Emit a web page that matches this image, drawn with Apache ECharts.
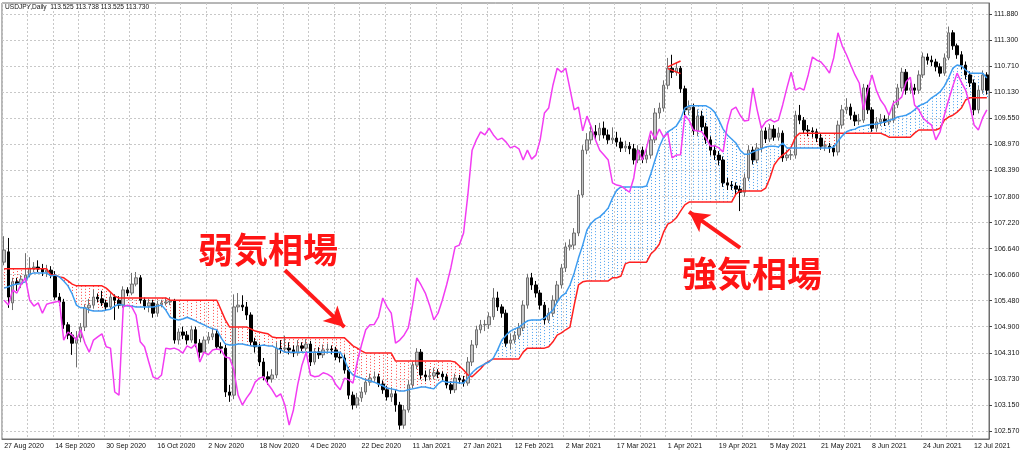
<!DOCTYPE html>
<html>
<head>
<meta charset="utf-8">
<script src="https://cdn.jsdelivr.net/npm/echarts@6/dist/echarts.min.js"></script>
<style>
  html, body { margin: 0; padding: 0; background: #fff; }
  #chart { width: 1024px; height: 455px; }
</style>
</head>
<body>
<div id="chart"></div>
<script>
// date labels, one every 12 bars
const dateTicks = ['27 Aug 2020', '14 Sep 2020', '30 Sep 2020', '16 Oct 2020', '2 Nov 2020', '18 Nov 2020',
  '4 Dec 2020', '22 Dec 2020', '11 Jan 2021', '27 Jan 2021', '12 Feb 2021', '2 Mar 2021', '17 Mar 2021',
  '1 Apr 2021', '19 Apr 2021', '5 May 2021', '21 May 2021', '8 Jun 2021', '24 Jun 2021', '12 Jul 2021'];

const priceTicks = [102.57, 103.15, 103.73, 104.31, 104.90, 105.48, 106.06, 106.64, 107.22,
  107.80, 108.39, 108.97, 109.55, 110.13, 110.71, 111.30, 111.88];

// daily bars: [open, close, low, high]
const candles = [
  [106.34,106.61,106.27,106.92],[106.57,105.56,105.32,106.88],[105.43,105.90,105.27,105.99],[105.90,105.85,105.70,105.99],
  [105.85,105.96,105.76,106.05],[105.96,106.05,105.90,106.54],[106.05,106.21,106.00,106.45],[106.21,106.23,106.12,106.34],
  [106.23,106.19,106.12,106.38],[106.19,106.12,106.03,106.30],[106.12,106.16,106.01,106.28],[106.16,106.05,105.98,106.25],
  [106.05,105.56,105.50,106.14],[105.56,105.45,105.36,105.65],[105.45,104.94,104.85,105.52],[104.94,104.71,104.62,105.00],
  [104.71,104.53,104.27,104.78],[104.53,104.65,103.99,104.80],[104.65,104.89,104.55,104.98],[104.89,105.32,104.80,105.40],
  [105.32,105.38,105.20,105.52],[105.38,105.56,105.30,105.72],[105.56,105.52,105.44,105.64],[105.52,105.43,105.36,105.70],
  [105.43,105.34,105.25,105.50],[105.34,105.56,105.28,105.64],[105.56,105.49,105.05,105.62],[105.49,105.38,105.30,105.58],
  [105.38,105.72,105.32,105.80],[105.72,105.65,105.58,105.78],[105.65,105.85,105.60,106.10],[105.85,105.99,105.80,106.12],
  [105.99,105.49,105.42,106.05],[105.49,105.36,105.28,105.55],[105.36,105.43,105.22,105.52],[105.43,105.20,105.10,105.50],
  [105.20,105.40,105.12,105.48],[105.40,105.43,105.33,105.50],[105.43,105.45,105.37,105.55],[105.45,105.47,105.38,105.56],
  [105.47,104.60,104.52,105.52],[104.60,104.78,104.50,104.86],[104.78,104.71,104.62,104.90],[104.71,104.60,104.50,104.80],
  [104.60,104.83,104.54,104.92],[104.83,104.53,104.44,104.90],[104.53,104.33,104.20,104.62],[104.33,104.60,104.28,104.68],
  [104.60,104.67,104.52,104.78],[104.67,104.74,104.60,104.88],[104.74,104.45,104.38,104.82],[104.45,104.42,104.30,104.55],
  [104.42,103.44,103.33,104.50],[103.44,103.37,103.22,103.60],[103.37,105.34,103.28,105.62],[105.34,105.38,105.22,105.65],
  [105.38,105.34,105.25,105.60],[105.34,105.16,105.05,105.45],[105.16,104.56,104.48,105.22],[104.56,104.45,104.32,104.65],
  [104.45,104.11,104.02,104.52],[104.11,103.78,103.70,104.20],[103.78,103.73,103.60,103.90],[103.73,103.82,103.65,103.95],
  [103.82,104.42,103.75,104.55],[104.42,104.40,104.30,104.60],[104.40,104.42,104.32,104.70],[104.42,104.38,104.28,104.55],
  [104.38,104.31,104.22,104.48],[104.31,104.47,104.25,104.60],[104.47,104.42,104.35,104.55],[104.42,104.51,104.36,104.62],
  [104.51,104.11,104.02,104.58],[104.11,104.33,104.05,104.42],[104.33,104.27,104.18,104.44],[104.27,104.38,104.20,104.50],
  [104.38,104.40,104.30,104.52],[104.40,104.38,104.28,104.48],[104.38,104.22,104.15,104.45],[104.22,104.20,104.10,104.30],
  [104.20,103.93,103.85,104.28],[103.93,103.37,103.28,104.00],[103.37,103.15,103.05,103.45],[103.15,103.31,103.08,103.42],
  [103.31,103.44,103.22,103.55],[103.44,103.66,103.38,103.75],[103.66,103.75,103.58,103.85],[103.75,103.78,103.68,103.90],
  [103.78,103.62,103.55,103.85],[103.62,103.49,103.40,103.70],[103.49,103.33,103.25,103.58],[103.33,103.40,103.22,103.55],
  [103.40,103.15,103.00,103.48],[103.15,102.70,102.60,103.22],[102.70,103.04,102.62,103.15],[103.04,103.60,102.98,103.70],
  [103.60,104.04,103.52,104.12],[104.04,104.33,103.95,104.42],[104.33,103.82,103.72,104.40],[103.82,103.78,103.68,103.92],
  [103.78,103.80,103.70,103.95],[103.80,103.87,103.72,103.98],[103.87,103.84,103.75,103.95],[103.84,103.78,103.68,103.90],
  [103.78,103.60,103.52,103.85],[103.60,103.49,103.40,103.68],[103.49,103.75,103.42,103.85],[103.75,103.71,103.62,103.82],
  [103.71,103.64,103.56,103.80],[103.64,104.11,103.58,104.22],[104.11,104.49,104.02,104.60],[104.49,104.83,104.42,104.92],
  [104.83,104.94,104.75,105.05],[104.94,104.95,104.80,105.05],[104.94,105.12,104.85,105.22],[105.12,105.54,105.05,105.76],
  [105.54,105.34,105.25,105.68],[105.34,105.20,105.10,105.40],[105.20,104.53,104.45,105.28],[104.53,104.60,104.40,104.75],
  [104.60,104.71,104.52,104.80],[104.71,104.87,104.62,104.98],[104.87,105.38,104.80,105.48],[105.38,105.99,105.30,106.08],
  [105.99,105.83,105.72,106.10],[105.83,105.65,105.55,105.92],[105.65,105.38,105.28,105.72],[105.38,105.05,104.95,105.45],
  [105.05,105.20,104.98,105.32],[105.20,105.49,105.12,105.60],[105.49,105.83,105.42,105.92],[105.83,106.21,105.75,106.30],
  [106.21,106.68,106.12,106.78],[106.68,106.72,106.60,106.85],[106.72,106.99,106.62,107.10],[106.99,107.84,106.92,107.95],
  [107.84,108.84,107.78,108.95],[108.84,109.07,108.75,109.22],[109.07,109.25,108.98,109.38],[109.25,109.18,109.08,109.40],
  [109.18,109.33,109.05,109.45],[109.33,109.18,109.10,109.48],[109.18,109.07,108.98,109.30],[109.07,109.11,108.98,109.35],
  [109.11,109.02,108.92,109.25],[109.02,108.89,108.80,109.12],[108.89,108.93,108.80,109.05],[108.93,108.87,108.75,109.02],
  [108.87,108.62,108.52,108.98],[108.62,108.84,108.55,108.95],[108.84,108.64,108.55,108.92],[108.64,108.73,108.55,108.90],
  [108.73,109.07,108.65,109.18],[109.07,109.67,109.00,109.78],[109.67,109.78,109.55,109.90],[109.78,110.29,109.70,110.40],
  [110.29,110.67,110.20,110.90],[110.67,110.58,110.45,110.97],[110.58,110.67,110.50,110.80],[110.67,110.21,110.12,110.72],
  [110.21,109.74,109.62,110.28],[109.74,109.80,109.62,109.95],[109.80,109.27,109.18,109.88],[109.27,109.60,109.15,109.75],
  [109.60,109.36,109.25,109.72],[109.36,109.07,108.98,109.45],[109.07,108.84,108.72,109.15],[108.84,108.73,108.62,108.95],
  [108.73,108.62,108.50,108.82],[108.62,108.11,108.02,108.70],[108.11,108.06,107.95,108.22],[108.06,108.04,107.95,108.15],
  [108.04,107.97,107.85,108.12],[107.97,107.90,107.48,108.05],[107.90,108.22,107.80,108.32],[108.22,108.84,108.15,108.95],
  [108.84,108.62,108.52,108.92],[108.62,108.89,108.55,109.00],[108.89,109.27,108.80,109.38],[109.27,109.09,109.00,109.35],
  [109.09,109.31,109.02,109.42],[109.31,109.13,109.05,109.40],[109.13,109.22,109.05,109.35],[109.22,108.67,108.58,109.28],
  [108.67,108.73,108.60,108.85],[108.73,108.74,108.62,108.85],[108.73,109.62,108.65,109.72],[109.62,109.51,109.42,109.85],
  [109.51,109.29,109.20,109.58],[109.29,109.27,109.15,109.40],[109.27,109.25,109.12,109.35],[109.25,109.11,109.02,109.32],
  [109.11,108.93,108.85,109.20],[108.93,108.94,108.82,109.05],[108.93,108.89,108.78,109.00],[108.89,108.80,108.70,108.95],
  [108.80,109.40,108.72,109.50],[109.40,109.74,109.32,109.85],[109.74,109.80,109.65,110.00],[109.80,109.62,109.52,109.88],
  [109.62,109.49,109.38,109.70],[109.49,109.51,109.40,109.65],[109.51,110.23,109.45,110.32],[110.23,109.74,109.65,110.30],
  [109.74,109.33,109.25,109.80],[109.33,109.47,109.25,109.58],[109.47,109.53,109.38,109.65],[109.53,109.47,109.38,109.62],
  [109.47,109.51,109.40,109.62],[109.51,109.85,109.45,109.95],[109.85,110.23,109.78,110.32],[110.23,110.58,110.15,110.68],
  [110.58,110.18,110.08,110.65],[110.18,110.23,110.10,110.35],[110.23,110.18,110.08,110.32],[110.18,110.52,110.10,110.62],
  [110.52,110.92,110.45,111.02],[110.92,110.85,110.75,111.00],[110.85,110.81,110.72,110.95],[110.81,110.70,110.60,110.88],
  [110.70,110.56,110.48,110.78],[110.56,110.90,110.50,111.00],[110.90,111.46,110.85,111.60],[111.46,111.17,111.08,111.52],
  [111.17,110.97,110.88,111.22],[110.97,110.74,110.65,111.05],[110.74,110.52,110.42,110.82],[110.52,110.34,110.25,110.60],
  [110.34,109.74,109.62,110.42],[109.74,110.18,109.66,110.28],[110.18,110.52,110.10,110.62],[110.52,110.18,110.08,110.58]
];

// Senkou span A (blue)
const spanA = [
  105.76,105.79,105.83,105.85,105.87,105.90,106.07,106.10,106.10,106.10,
  106.10,106.03,106.05,106.01,105.92,105.81,105.63,105.38,105.32,105.32,
  105.27,105.25,105.25,105.25,105.27,105.29,105.36,105.40,105.38,105.36,
  105.36,105.34,105.34,105.34,105.34,105.34,105.36,105.38,105.27,105.11,
  105.07,105.05,105.07,105.11,105.07,105.03,104.98,104.94,104.89,104.85,
  104.83,104.65,104.51,104.49,104.49,104.51,104.51,104.49,104.47,104.47,
  104.47,104.49,104.47,104.47,104.42,104.38,104.33,104.33,104.33,104.33,
  104.33,104.33,104.33,104.33,104.33,104.33,104.33,104.33,104.33,104.33,
  104.16,103.93,103.82,103.78,103.75,103.71,103.69,103.66,103.62,103.58,
  103.53,103.51,103.49,103.46,103.46,103.49,103.51,103.53,103.55,103.55,
  103.53,103.51,103.62,103.69,103.66,103.66,103.66,103.64,103.64,103.75,
  103.87,103.96,104.02,104.07,104.11,104.20,104.38,104.60,104.71,104.80,
  104.85,104.89,104.96,105.03,105.05,105.05,105.05,105.09,105.18,105.27,
  105.45,105.58,105.65,105.83,106.10,106.43,106.72,107.06,107.21,107.30,
  107.35,107.44,107.55,107.77,107.95,108.02,108.02,108.02,108.02,108.02,
  108.02,108.04,108.31,108.62,108.91,109.13,109.25,109.31,109.38,109.53,
  109.78,109.83,109.83,109.83,109.83,109.83,109.78,109.69,109.51,109.31,
  109.18,109.09,109.00,108.84,108.75,108.75,108.80,108.84,108.87,108.91,
  108.93,108.93,108.91,109.00,108.89,108.89,108.89,108.89,108.89,108.89,
  108.89,108.89,108.89,108.89,108.89,108.91,109.04,109.16,109.25,109.29,
  109.31,109.36,109.38,109.40,109.42,109.42,109.45,109.47,109.51,109.53,
  109.58,109.60,109.62,109.67,109.74,109.83,109.87,109.92,110.01,110.07,
  110.14,110.27,110.45,110.67,110.74,110.72,110.63,110.56,110.56,110.56,
  110.56,110.45
];

// Senkou span B (red)
const spanB = [
  106.19,106.19,106.19,106.19,106.19,106.19,106.19,106.19,106.19,106.19,
  106.19,106.05,106.05,106.01,105.99,105.92,105.85,105.81,105.81,105.81,
  105.81,105.81,105.81,105.81,105.76,105.67,105.58,105.54,105.54,105.54,
  105.54,105.54,105.54,105.54,105.54,105.54,105.54,105.54,105.54,105.49,
  105.49,105.49,105.49,105.49,105.49,105.49,105.49,105.49,105.49,105.49,
  105.49,105.27,105.05,104.89,104.89,104.89,104.89,104.89,104.85,104.80,
  104.78,104.76,104.74,104.67,104.65,104.65,104.65,104.65,104.65,104.65,
  104.65,104.65,104.65,104.65,104.65,104.65,104.65,104.65,104.65,104.65,
  104.65,104.56,104.47,104.42,104.36,104.31,104.31,104.31,104.31,104.31,
  104.31,104.31,104.13,104.13,104.13,104.13,104.13,104.13,104.13,104.13,
  104.13,104.13,104.13,104.13,104.13,104.13,104.11,104.02,103.93,103.82,
  103.78,103.87,103.96,104.07,104.13,104.18,104.18,104.18,104.18,104.18,
  104.18,104.18,104.33,104.42,104.42,104.42,104.42,104.42,104.45,104.56,
  104.71,104.76,104.83,104.89,105.38,105.83,105.90,105.92,105.92,105.92,
  105.92,105.92,105.92,105.99,105.99,106.03,106.30,106.34,106.34,106.34,
  106.34,106.34,106.52,106.61,106.74,107.01,107.19,107.24,107.33,107.48,
  107.62,107.68,107.68,107.68,107.68,107.68,107.68,107.68,107.68,107.68,
  107.68,107.68,107.86,107.93,107.93,107.93,107.93,107.93,107.93,107.99,
  108.22,108.51,108.64,108.73,108.80,108.91,109.13,109.22,109.22,109.22,
  109.22,109.22,109.22,109.22,109.22,109.22,109.22,109.22,109.22,109.22,
  109.22,109.22,109.22,109.22,109.22,109.22,109.22,109.18,109.13,109.13,
  109.13,109.13,109.13,109.13,109.22,109.29,109.29,109.29,109.29,109.29,
  109.33,109.51,109.58,109.62,109.69,109.78,109.96,110.01,110.01,110.01,
  110.01,110.01
];

// Chikou span (magenta)
const chikou = [
  105.49,105.38,105.72,105.65,105.85,105.99,105.49,105.36,105.43,105.20,
  105.40,105.43,105.45,105.47,104.60,104.78,104.71,104.60,104.83,104.53,
  104.33,104.60,104.67,104.74,104.45,104.42,103.44,103.37,105.34,105.38,
  105.34,105.16,104.56,104.45,104.11,103.78,103.73,103.82,104.42,104.40,
  104.42,104.38,104.31,104.47,104.42,104.51,104.11,104.33,104.27,104.38,
  104.40,104.38,104.22,104.20,103.93,103.37,103.15,103.31,103.44,103.66,
  103.75,103.78,103.62,103.49,103.33,103.40,103.15,102.70,103.04,103.60,
  104.04,104.33,103.82,103.78,103.80,103.87,103.84,103.78,103.60,103.49,
  103.75,103.71,103.64,104.11,104.49,104.83,104.94,104.95,105.12,105.54,
  105.34,105.20,104.53,104.60,104.71,104.87,105.38,105.99,105.83,105.65,
  105.38,105.05,105.20,105.49,105.83,106.21,106.68,106.72,106.99,107.84,
  108.84,109.07,109.25,109.18,109.33,109.18,109.07,109.11,109.02,108.89,
  108.93,108.87,108.62,108.84,108.64,108.73,109.07,109.67,109.78,110.29,
  110.67,110.58,110.67,110.21,109.74,109.80,109.27,109.60,109.36,109.07,
  108.84,108.73,108.62,108.11,108.06,108.04,107.97,107.90,108.22,108.84,
  108.62,108.89,109.27,109.09,109.31,109.13,109.22,108.67,108.73,108.74,
  109.62,109.51,109.29,109.27,109.25,109.11,108.93,108.94,108.89,108.80,
  109.40,109.74,109.80,109.62,109.49,109.51,110.23,109.74,109.33,109.47,
  109.53,109.47,109.51,109.85,110.23,110.58,110.18,110.23,110.18,110.52,
  110.92,110.85,110.81,110.70,110.56,110.90,111.46,111.17,110.97,110.74,
  110.52,110.34,109.74,110.18,110.52,110.18,109.96,109.83,109.62,109.89,
  109.94,110.03,110.36,110.47,109.85,109.74,109.56,109.47,109.40,109.07,
  109.25,109.62,109.96,110.27,110.56,110.36,110.18,109.85,109.40,109.29,
  109.56,109.74
];

const bars = candles.map((c, i) => String(i));
const cloud = spanA.map((a, i) => [i, a, spanB[i]]);

const chart = echarts.init(document.getElementById('chart'));
const axisText = { fontFamily: 'Liberation Sans', fontSize: 7, color: '#111' };
const arrowRed = '#ff1a1a';
const noteStyle = {
  font: 'bold 35px "Noto Sans CJK JP"', fill: '#ff1414', stroke: '#fff', lineWidth: 2,
  textAlign: 'center', textVerticalAlign: 'middle',
  shadowBlur: 4, shadowColor: 'rgba(0,0,0,0.35)', shadowOffsetX: 1, shadowOffsetY: 1
};

const option = {
  animation: false,
  backgroundColor: '#fff',
  grid: { left: 2, right: 35, top: 3, bottom: 16, show: true, borderColor: '#6f6f6f', borderWidth: 1 },
  xAxis: {
    type: 'category',
    data: bars,
    boundaryGap: true,
    axisLine: { lineStyle: { color: '#6f6f6f' } },
    axisTick: { length: 3, interval: (i) => i % 12 === 0, lineStyle: { color: '#444' } },
    axisLabel: Object.assign({}, axisText, {
      interval: (i) => i % 12 === 0,
      formatter: (v, i) => dateTicks[i / 12] || '',
      align: 'left', margin: 4
    }),
    splitLine: { show: true, interval: (i) => i % 6 === 0, lineStyle: { color: '#c8c8c8', type: [2, 2], width: 1 } }
  },
  yAxis: {
    type: 'value',
    position: 'right',
    min: 102.391,
    max: 112.126,
    axisLine: { show: true, lineStyle: { color: '#6f6f6f' } },
    axisTick: { show: true, length: 3, customValues: priceTicks, lineStyle: { color: '#444' } },
    axisLabel: Object.assign({}, axisText, { customValues: priceTicks, formatter: (v) => v.toFixed(3), margin: 5 }),
    splitLine: { show: true, lineStyle: { color: '#c8c8c8', type: [2, 2], width: 1 } }
  },
  graphic: [
    { type: 'text', left: 5, top: 4, style: { text: 'USDJPY,Daily  113.525 113.738 113.525 113.730', font: '6.6px "Liberation Sans"', fill: '#111' } },
    { type: 'text', x: 268, y: 250, z: 100, style: Object.assign({ text: '弱気相場' }, noteStyle) },
    { type: 'text', x: 752, y: 274, z: 100, style: Object.assign({ text: '強気相場' }, noteStyle) }
  ],
  series: [
    {
      // kumo: one dotted vertical stroke per bar between the two spans
      type: 'custom',
      z: 1,
      data: cloud,
      encode: { x: 0, y: [1, 2] },
      renderItem: function (params, api) {
        const i = api.value(0);
        const a = api.coord([i, api.value(1)]);
        const b = api.coord([i, api.value(2)]);
        const x = Math.round(a[0]) + 0.5;
        return {
          type: 'line',
          shape: { x1: x, y1: a[1], x2: x, y2: b[1] },
          style: { stroke: api.value(1) >= api.value(2) ? '#4da2f0' : '#ff4a4a', lineWidth: 1, lineDash: [1, 2] }
        };
      }
    },
    {
      type: 'candlestick',
      z: 2,
      data: candles,
      barWidth: 3,
      itemStyle: { color: '#c4c4c4', color0: '#000', borderColor: '#707070', borderColor0: '#000', borderWidth: 1 }
    },
    {
      type: 'line', z: 3, data: spanB, showSymbol: false, symbol: 'none',
      lineStyle: { color: '#ff2020', width: 1.5 },
      markLine: {
        silent: true, symbol: ['none', 'arrow'], symbolSize: [16, 20],
        label: { show: false },
        lineStyle: { color: arrowRed, width: 4, type: 'solid' },
        data: [
          [{ coord: [66, 106.16] }, { coord: [80, 104.89] }],
          [{ coord: [173, 106.66] }, { coord: [161, 107.46] }]
        ]
      }
    },
    {
      type: 'line', z: 3, data: spanA, showSymbol: false, symbol: 'none',
      lineStyle: { color: '#3d9cf0', width: 1.5 },
      markLine: {
        silent: true, symbol: ['none', 'none'],
        label: { show: false },
        lineStyle: { color: '#ff2020', width: 1.5, type: 'solid' },
        data: [
          [{ coord: [156, 110.70] }, { coord: [159, 110.83] }],
          [{ coord: [156, 110.66] }, { coord: [159, 110.55] }]
        ]
      }
    },
    {
      type: 'line', z: 4, data: chikou, showSymbol: false, symbol: 'none',
      lineStyle: { color: '#f23cf2', width: 1.5 }
    }
  ]
};

chart.setOption(option);
</script>
</body>
</html>
